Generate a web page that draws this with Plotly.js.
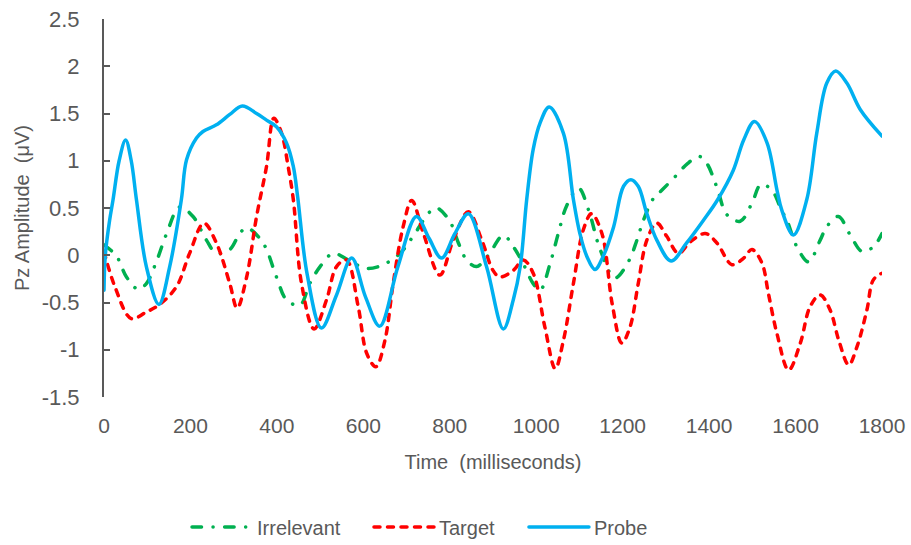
<!DOCTYPE html>
<html>
<head>
<meta charset="utf-8">
<script src="https://cdn.plot.ly/plotly-3.0.1.min.js"></script>
<style>
  html, body { margin: 0; padding: 0; background: #ffffff; }
  #chart { width: 911px; height: 545px; }
  /* rounded dash ends, like the original line styles */
  .js-line { stroke-linecap: round; stroke-linejoin: round; }
</style>
</head>
<body>
<div id="chart"></div>
<script>
// Grand-average Pz waveforms (µV) by stimulus type
const irrelevantTime = [0, 29, 52, 79, 98, 121, 145, 175, 206, 237, 260, 291, 314, 330, 368, 399, 422, 453, 476, 500, 530, 565, 607, 646, 685, 715, 754, 770, 800, 820, 839, 862, 889, 924, 947, 970, 993, 1009, 1032, 1051, 1071, 1098, 1121, 1148, 1182, 1213, 1233, 1248, 1271, 1291, 1321, 1350, 1378, 1395, 1410, 1422, 1441, 1472, 1499, 1520, 1545, 1568, 1580, 1603, 1630, 1657, 1672, 1699, 1727, 1754, 1780, 1800];
const irrelevantAmp = [0.11, -0.01, -0.23, -0.36, -0.30, -0.07, 0.23, 0.51, 0.41, 0.16, 0.02, 0.06, 0.23, 0.29, 0.13, -0.23, -0.47, -0.53, -0.30, -0.12, 0.02, -0.05, -0.14, -0.10, 0.02, 0.20, 0.46, 0.50, 0.36, 0.13, -0.05, -0.12, 0.00, 0.21, 0.09, -0.09, -0.30, -0.37, -0.09, 0.23, 0.53, 0.71, 0.48, 0.06, -0.24, -0.07, 0.16, 0.37, 0.60, 0.69, 0.83, 0.97, 1.045, 0.97, 0.82, 0.66, 0.43, 0.36, 0.55, 0.75, 0.69, 0.47, 0.37, 0.09, -0.07, 0.16, 0.30, 0.41, 0.21, 0.04, 0.09, 0.23];

const targetTime = [0, 25, 63, 98, 129, 168, 198, 231, 260, 291, 308, 330, 353, 376, 393, 411, 426, 438, 457, 486, 515, 538, 561, 588, 608, 629, 650, 669, 692, 712, 739, 777, 808, 843, 874, 900, 916, 947, 970, 993, 1020, 1044, 1063, 1086, 1109, 1128, 1152, 1176, 1198, 1217, 1236, 1256, 1279, 1302, 1329, 1356, 1391, 1418, 1453, 1480, 1499, 1522, 1537, 1557, 1584, 1611, 1634, 1657, 1680, 1700, 1723, 1742, 1765, 1780, 1800];
const targetAmp = [0.04, -0.33, -0.67, -0.60, -0.52, -0.33, 0.02, 0.34, 0.13, -0.30, -0.56, -0.23, 0.41, 0.94, 1.45, 1.29, 0.94, 0.59, -0.30, -0.78, -0.47, -0.12, -0.05, -0.54, -1.04, -1.18, -0.90, -0.30, 0.30, 0.58, 0.23, -0.21, 0.16, 0.46, 0.16, -0.16, -0.23, -0.16, -0.05, -0.19, -0.76, -1.20, -0.90, -0.30, 0.27, 0.44, 0.23, -0.52, -0.93, -0.76, -0.30, 0.16, 0.34, 0.20, 0.02, 0.14, 0.23, 0.13, -0.10, -0.03, 0.06, -0.08, -0.40, -0.83, -1.215, -0.93, -0.54, -0.42, -0.58, -0.90, -1.16, -0.97, -0.58, -0.26, -0.19];

const probeTime = [0, 3, 13, 21, 35, 50, 63, 75, 98, 127, 152, 179, 191, 214, 229, 260, 291, 320, 353, 376, 399, 422, 438, 448, 470, 503, 538, 573, 605, 638, 680, 723, 752, 781, 812, 843, 885, 924, 947, 963, 978, 993, 1009, 1030, 1063, 1086, 1101, 1117, 1136, 1155, 1179, 1202, 1219, 1236, 1256, 1279, 1312, 1348, 1387, 1420, 1456, 1480, 1505, 1534, 1557, 1568, 1595, 1626, 1649, 1672, 1693, 1719, 1750, 1800];
const probeAmp = [-0.37, 0.0, 0.37, 0.59, 1.0, 1.22, 1.0, 0.59, -0.12, -0.52, -0.12, 0.59, 1.01, 1.24, 1.31, 1.38, 1.49, 1.58, 1.50, 1.43, 1.36, 1.19, 0.94, 0.62, -0.2, -0.77, -0.42, -0.03, -0.44, -0.75, -0.12, 0.41, 0.18, -0.03, 0.23, 0.44, -0.12, -0.78, -0.47, -0.12, 0.59, 1.12, 1.40, 1.57, 1.29, 0.59, 0.23, -0.01, -0.15, -0.01, 0.30, 0.73, 0.80, 0.73, 0.44, 0.16, -0.06, 0.13, 0.37, 0.59, 0.90, 1.22, 1.415, 1.19, 0.69, 0.48, 0.215, 0.59, 1.29, 1.82, 1.95, 1.82, 1.54, 1.26];

const seriesNames = ['Irrelevant', 'Target', 'Probe'];
const xTickVals = [0, 200, 400, 600, 800, 1000, 1200, 1400, 1600, 1800];
const xTickText = ['0', '200', '400', '600', '800', '1000', '1200', '1400', '1600', '1800'];
const yTickVals = [-1.5, -1, -0.5, 0, 0.5, 1, 1.5, 2, 2.5];
const yTickText = ['-1.5', '-1', '-0.5', '0', '0.5', '1', '1.5', '2', '2.5'];

const GREY = '#595959';
const FONT = '"Liberation Sans", Arial, sans-serif';

function wave(name, x, y, color, dash, legendId) {
  return {
    type: 'scatter', mode: 'lines', name: name, x: x, y: y, legend: legendId,
    line: { color: color, width: 3.5, dash: dash, shape: 'spline', smoothing: 1 },
    hoverinfo: 'skip'
  };
}

const traces = [
  wave(seriesNames[0], irrelevantTime, irrelevantAmp, '#00B050', '9.5px,11.5px,0.1px,11.5px', 'legend'),
  wave(seriesNames[1], targetTime, targetAmp, '#FF0000', '6px,7.5px', 'legend2'),
  wave(seriesNames[2], probeTime, probeAmp, '#00B0F0', 'solid', 'legend3')
];

// one legend box per series so each entry sits on the shared bottom row
function legendBox(x) {
  return {
    orientation: 'h', x: x, xanchor: 'left', y: -0.344, yanchor: 'middle',
    font: { family: FONT, size: 20, color: GREY },
    itemwidth: 60, bgcolor: 'rgba(0,0,0,0)'
  };
}

const layout = {
  width: 911, height: 545,
  margin: { l: 104, r: 29, t: 19, b: 148, pad: 0, autoexpand: false },
  paper_bgcolor: '#ffffff', plot_bgcolor: '#ffffff',
  font: { family: FONT, color: GREY, size: 20 },
  showlegend: true,
  legend: legendBox(0.1067),
  legend2: legendBox(0.3406),
  legend3: legendBox(0.5398),
  xaxis: {
    range: [0, 1800], tickvals: xTickVals, ticktext: xTickText,
    showline: false, showgrid: false, zeroline: false,
    ticks: '', ticklabelstandoff: 14,
    tickfont: { family: FONT, size: 21, color: GREY },
    title: { text: 'Time\u00a0 (milliseconds)', font: { family: FONT, size: 20, color: GREY }, standoff: 18 },
    fixedrange: true
  },
  yaxis: {
    range: [-1.5, 2.5], tickvals: yTickVals, ticktext: yTickText,
    showline: true, linecolor: GREY, linewidth: 2,
    ticks: 'inside', ticklen: 6, tickwidth: 2, tickcolor: GREY,
    showgrid: false, zeroline: false, ticklabelstandoff: 18,
    tickfont: { family: FONT, size: 22, color: GREY },
    title: { text: 'Pz Amplitude\u00a0 (\u03bcV)', font: { family: FONT, size: 20, color: GREY }, standoff: 7 },
    fixedrange: true
  }
};

Plotly.newPlot('chart', traces, layout, { displayModeBar: false, staticPlot: true });
</script>
</body>
</html>
